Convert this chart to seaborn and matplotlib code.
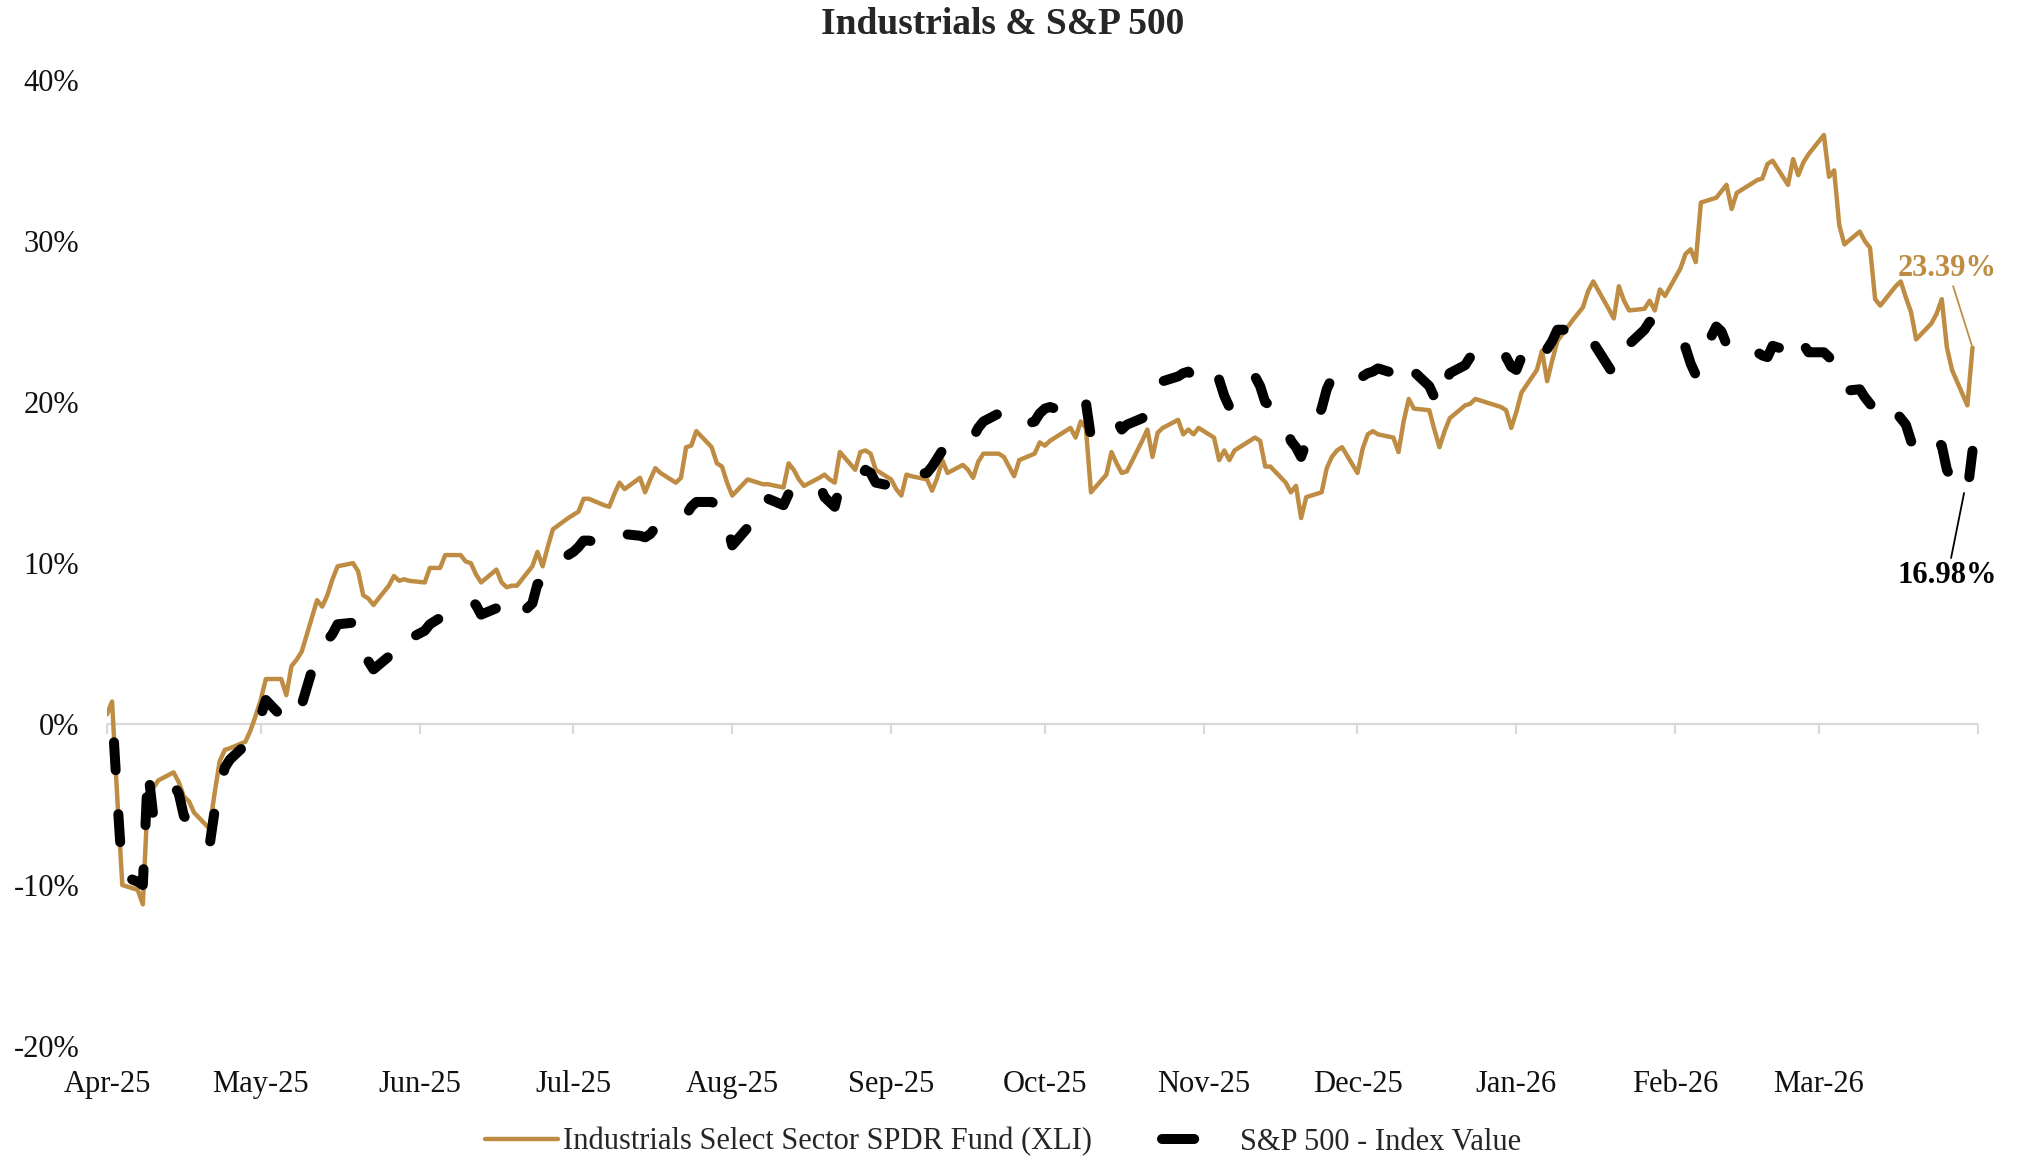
import numpy as np
import pandas as pd
import seaborn as sns
import matplotlib.pyplot as plt
import matplotlib.dates as mdates
from matplotlib.ticker import FuncFormatter, NullFormatter

# ==============================
# Data (cumulative return %, one value per business day)
# ==============================
dates = pd.bdate_range("2025-04-01", "2026-03-31")

xli = [
    # Apr-25
    0.6, 1.4, -4.5, -10.0, -10.3, -11.2, -4.3, -4.0, -3.5, -3.0, -3.6, -4.5, -4.8, -5.5, -6.5, -4.3, -2.3, -1.6, -1.5, -1.1, -0.4, 0.5,
    # May-25
    1.5, 2.8, 2.8, 1.8, 3.6, 4.0, 4.5, 7.7, 7.3, 8.0, 9.0, 9.8, 10.0, 9.5, 8.0, 7.8, 7.4, 8.6, 9.2, 8.9, 9.0, 8.9,
    # Jun-25
    8.8, 9.7, 9.7, 9.7, 10.5, 10.5, 10.1, 10.0, 9.3, 8.8, 9.6, 8.8, 8.5, 8.6, 8.6, 9.8, 10.7, 9.8, 11.0, 12.1, 12.8,
    # Jul-25
    13.0, 13.2, 14.0, 14.0, 13.6, 13.5, 14.3, 15.0, 14.6, 15.3, 14.4, 15.2, 15.9, 15.6, 15.0, 15.3, 17.2, 17.3, 18.2, 17.2, 16.2, 16.0, 15.0,
    # Aug-25
    14.2, 15.2, 15.1, 15.0, 14.9, 14.9, 14.7, 16.2, 15.8, 15.2, 14.8, 15.3, 15.5, 15.2, 15.0, 16.9, 15.8, 16.9, 17.0, 16.8, 15.8,
    # Sep-25
    15.2, 14.6, 14.2, 15.5, 15.4, 15.2, 14.5, 15.3, 16.4, 15.6, 16.1, 15.8, 15.3, 16.3, 16.8, 16.8, 16.6, 16.0, 15.4, 16.4, 16.8, 17.5,
    # Oct-25
    17.3, 17.6, 17.8, 18.4, 17.8, 18.8, 18.4, 14.4, 15.5, 16.9, 16.2, 15.6, 15.7, 17.6, 18.3, 16.6, 18.1, 18.4, 18.9, 18.0, 18.3, 18.0, 18.4,
    # Nov-25
    17.8, 16.4, 17.0, 16.4, 17.0, 17.6, 17.8, 17.6, 16.0, 16.0, 15.0, 14.4, 14.8, 12.8, 14.1, 14.4, 15.9, 16.6, 17.0, 17.2,
    # Dec-25
    15.6, 17.1, 18.0, 18.2, 18.0, 17.8, 16.9, 18.8, 20.2, 19.6, 19.5, 18.3, 17.2, 18.2, 19.0, 19.8, 19.9, 20.2, 20.1, 20.0, 19.7, 19.5, 18.4,
    # Jan-26
    19.4, 20.6, 22.0, 23.2, 21.3, 22.6, 23.8, 25.1, 25.5, 25.9, 26.9, 27.5, 25.8, 25.2, 27.2, 26.3, 25.7, 25.8, 26.3, 25.7, 27.0, 26.6,
    # Feb-26
    28.3, 29.2, 29.5, 28.7, 32.4, 32.7, 33.1, 33.5, 32.0, 33.0, 33.6, 33.8, 33.9, 34.8, 35.0, 33.5, 35.1, 34.1, 34.9, 35.4,
    # Mar-26
    36.6, 34.0, 34.4, 31.0, 29.8, 30.6, 30.0, 29.6, 26.4, 26.0, 27.2, 27.5, 26.5, 25.6, 23.9, 24.9, 25.5, 26.4, 23.4, 22.0, 19.8, 23.39,
]

spx = [
    # Apr-25
    0.3, 0.9, -4.5, -9.4, -9.8, -10.0, -2.8, -5.6, -4.7, -3.8, -4.3, -5.7, -6.1, -6.7, -7.6, -5.4, -4.0, -2.7, -2.2, -1.3, -0.7, 0.0,
    # May-25
    0.5, 1.5, 0.5, 0.0, 0.4, 0.9, 1.2, 4.4, 5.0, 5.2, 5.6, 6.2, 6.3, 5.4, 4.3, 3.9, 3.4, 4.2, 5.2, 5.0, 5.3, 5.3,
    # Jun-25
    5.8, 6.2, 6.4, 6.6, 6.9, 7.4, 7.6, 7.7, 7.4, 6.8, 7.2, 6.6, 6.4, 6.3, 6.6, 7.5, 8.7, 8.8, 9.5, 10.0, 10.5,
    # Jul-25
    10.7, 11.0, 11.4, 11.4, 11.2, 11.3, 11.8, 12.0, 11.8, 11.7, 11.6, 11.8, 12.2, 12.2, 12.5, 12.6, 13.0, 13.5, 13.8, 13.8, 13.6, 13.5, 12.4,
    # Aug-25
    11.1, 12.2, 12.0, 12.6, 13.3, 14.0, 13.6, 14.3, 14.6, 14.6, 14.5, 14.9, 14.1, 13.8, 13.5, 14.8, 14.9, 15.3, 15.8, 15.6, 15.0,
    # Sep-25
    14.8, 14.9, 15.3, 15.5, 15.5, 15.6, 16.0, 16.5, 17.0, 17.0, 17.3, 17.3, 17.8, 18.4, 18.8, 19.3, 19.0, 18.7, 18.3, 18.5, 18.8, 19.3,
    # Oct-25
    19.6, 19.7, 19.6, 20.0, 19.6, 20.1, 20.0, 17.8, 18.5, 18.8, 18.9, 18.3, 18.6, 19.0, 19.3, 19.6, 20.6, 21.3, 21.6, 21.8, 21.9, 21.5, 21.6,
    # Nov-25
    22.2, 21.4, 20.4, 19.7, 20.2, 21.5, 21.6, 21.0, 20.0, 19.8, 18.6, 17.6, 17.2, 16.6, 17.5, 19.6, 20.8, 21.5, 21.8, 22.1,
    # Dec-25
    21.5, 21.6, 21.8, 21.9, 22.1, 21.8, 22.1, 22.6, 22.7, 21.9, 21.0, 20.3, 19.8, 21.0, 21.8, 22.3, 22.8, 23.2, 23.5, 23.3, 23.0, 22.8, 22.2,
    # Jan-26
    22.0, 22.8, 23.5, 24.0, 23.3, 23.8, 24.5, 24.5, 24.2, 23.6, 23.9, 23.7, 22.2, 21.7, 22.5, 23.2, 23.6, 24.5, 25.0, 24.8, 24.4, 24.2,
    # Feb-26
    23.7, 23.4, 22.4, 21.7, 22.8, 24.7, 24.4, 23.6, 22.9, 23.0, 23.0, 23.1, 22.9, 22.8, 23.5, 23.2, 23.8, 24.2, 23.6, 23.1,
    # Mar-26
    23.1, 22.8, 22.4, 21.0, 20.7, 20.8, 20.3, 19.9, 19.5, 18.8, 19.4, 19.0, 18.6, 17.6, 16.8, 17.2, 17.6, 17.3, 15.8, 15.2, 14.4, 16.98,
]

series_names = ["Industrials Select Sector SPDR Fund (XLI)", "S&P 500 - Index Value"]
month_starts = pd.date_range("2025-04-01", "2026-04-01", freq="MS")
y_ticks = [-20, -10, 0, 10, 20, 30, 40]

GOLD = "#BE8C43"
GRID = "#D9D9D9"
SPX_LW = 7.2
DASH, GAP = 2.8, 4.4

df = pd.DataFrame({"date": dates, "xli": xli, "spx": spx})

# ==============================
# Plot
# ==============================
sns.set_theme(style="white")
plt.rcParams["font.family"] = ["Liberation Serif", "DejaVu Serif"]

fig, ax = plt.subplots(figsize=(20.18, 11.63), dpi=100)
fig.subplots_adjust(left=0.053, right=0.980, top=0.931, bottom=0.1006)

ax.axhline(0, color=GRID, lw=1.6, zorder=1)

sns.lineplot(data=df, x="date", y="xli", ax=ax, color=GOLD, linewidth=3.2,
             label=series_names[0], zorder=3)
sns.lineplot(data=df, x="date", y="spx", ax=ax, color="black", linewidth=SPX_LW,
             linestyle=(0, (DASH, GAP)), dash_capstyle="round",
             label=series_names[1], zorder=4)

ax.set_xlabel("")
ax.set_ylabel("")
ax.set_ylim(y_ticks[0], y_ticks[-1])
ax.set_yticks(y_ticks)
ax.yaxis.set_major_formatter(FuncFormatter(lambda v, _: f"{v:.0f}%"))
ax.set_xlim(month_starts[0], month_starts[-1])
ax.set_xticks(month_starts[:-1])
ax.set_xticklabels([d.strftime("%b-%y") for d in month_starts[:-1]])
ax.tick_params(axis="both", length=0, labelsize=22, labelcolor="#111111")
ax.tick_params(axis="y", pad=20)
ax.tick_params(axis="x", pad=17)
for s in ax.spines.values():
    s.set_visible(False)

# legend: single dash for the S&P handle
handles, labels = ax.get_legend_handles_labels()
ax.get_legend().remove()
leg = fig.legend(handles, labels, loc="center", bbox_to_anchor=(0.497, 0.018), ncol=2,
                 frameon=False, fontsize=22, handlelength=2.4, handletextpad=0.15,
                 columnspacing=2.3)
leg.legend_handles[1].set_linestyle((0, (DASH * 1.15, GAP * 3)))

# shift the dash pattern so the line ends inside a dash
spx_line = [l for l in ax.get_lines() if l.get_label() == series_names[1]][0]
pts = ax.transData.transform(np.column_stack([mdates.date2num(dates), spx]))
path_len = np.hypot(*np.diff(pts, axis=0).T).sum() * 72 / fig.dpi / SPX_LW
offset = (DASH * 0.95 - path_len) % (DASH + GAP)
spx_line.set_linestyle((offset, (DASH, GAP)))

# month tick marks on the zero line
zero_pos = (0 - y_ticks[0]) / (y_ticks[-1] - y_ticks[0])
sec = ax.secondary_xaxis(zero_pos)
sec.set_xticks(mdates.date2num(month_starts))
sec.xaxis.set_major_formatter(NullFormatter())
sec.tick_params(axis="x", length=7, width=1.5, color=GRID, direction="out")
for s in sec.spines.values():
    s.set_visible(False)

# end labels
ax.annotate(f"{xli[-1]:.2f}%", xy=(dates[-1], xli[-1]), xytext=(-18, 57),
            textcoords="offset points", ha="center", va="center",
            fontsize=22, fontweight="bold", color=GOLD,
            arrowprops=dict(arrowstyle="-", color=GOLD, lw=1.3, shrinkA=0, shrinkB=2))
ax.annotate(f"{spx[-1]:.2f}%", xy=(dates[-1], spx[-1]), xytext=(-18, -90),
            textcoords="offset points", ha="center", va="center",
            fontsize=22, fontweight="bold", color="black",
            arrowprops=dict(arrowstyle="-", color="black", lw=1.3, shrinkA=0, shrinkB=31))

fig.text(0.497, 0.979, "Industrials & S&P 500", ha="center", va="center",
         fontsize=27, fontweight="bold")

fig.savefig("out.png", dpi=100)
